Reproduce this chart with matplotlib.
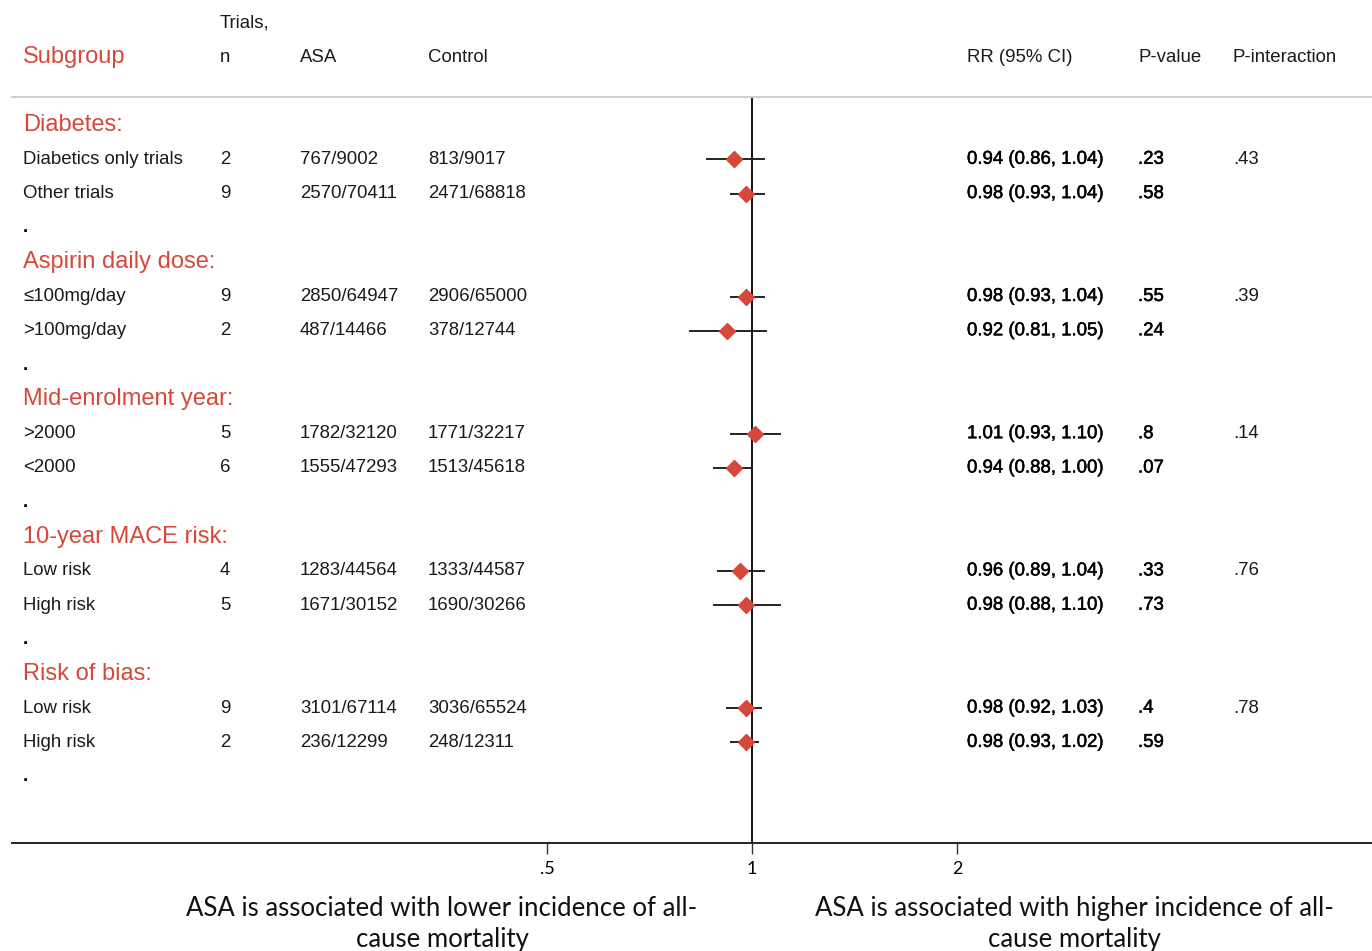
import matplotlib
matplotlib.use("Agg")
import matplotlib.pyplot as plt
import matplotlib.transforms as mtransforms
import matplotlib.patheffects as pe

plt.rcParams['font.family'] = ['Liberation Sans', 'DejaVu Sans']

# subgroup data
groups = ["Diabetes:", "Aspirin daily dose:", "Mid-enrolment year:",
          "10-year MACE risk:", "Risk of bias:"]
labels = ["Diabetics only trials", "Other trials",
          "\u2264100mg/day", ">100mg/day",
          ">2000", "<2000",
          "Low risk", "High risk",
          "Low risk", "High risk"]
trials = [2, 9, 9, 2, 5, 6, 4, 5, 9, 2]
asa = ["767/9002", "2570/70411", "2850/64947", "487/14466", "1782/32120",
       "1555/47293", "1283/44564", "1671/30152", "3101/67114", "236/12299"]
control = ["813/9017", "2471/68818", "2906/65000", "378/12744", "1771/32217",
           "1513/45618", "1333/44587", "1690/30266", "3036/65524", "248/12311"]
rr = [0.94, 0.98, 0.98, 0.92, 1.01, 0.94, 0.96, 0.98, 0.98, 0.98]
ci_lo = [0.86, 0.93, 0.93, 0.81, 0.93, 0.88, 0.89, 0.88, 0.92, 0.93]
ci_hi = [1.04, 1.04, 1.04, 1.05, 1.10, 1.00, 1.04, 1.10, 1.03, 1.02]
p_value = [".23", ".58", ".55", ".24", ".8", ".07", ".33", ".73", ".4", ".59"]
p_interaction = [".43", ".39", ".14", ".76", ".78"]

RED = "#d6483a"
INK = "#1a1a1a"
W, H = 1372, 951
fig = plt.figure(figsize=(W / 100, H / 100), dpi=100)

# axes spans the full table width; x is a log2 RR scale centred on 1
x0, x1 = 12, 1372
y_top, y_bot = 97, 843
ax = fig.add_axes([x0 / W, 1 - y_bot / H, (x1 - x0) / W, (y_bot - y_top) / H])
ax.set_xscale("log", base=2)
px_per_doubling = 205.0
ax.set_xlim(2 ** ((x0 - 752) / px_per_doubling), 2 ** ((x1 - 752) / px_per_doubling))

row_h = 34.3
first_row = 125
ax.set_ylim((y_bot - first_row) / row_h, -(first_row - y_top) / row_h)

for s in ["left", "right"]:
    ax.spines[s].set_visible(False)
ax.spines["top"].set_color("#cccccc")
ax.spines["top"].set_linewidth(1.3)
ax.spines["bottom"].set_color("#222222")
ax.spines["bottom"].set_linewidth(1.4)
ax.set_yticks([])
ax.set_xticks([0.5, 1, 2])
ax.set_xticklabels([".5", "1", "2"], family=["Lato", "DejaVu Sans"], fontsize=13)
ax.xaxis.set_minor_locator(matplotlib.ticker.NullLocator())
ax.tick_params(axis="x", length=8, width=1, color="#333333", pad=5)
ax.axvline(1, color="black", lw=1.3, zorder=1)

tr = mtransforms.blended_transform_factory(fig.transFigure, ax.transData)
col = lambda px: px / W

fs = 13.4
hfs = 17
semibold = [pe.withStroke(linewidth=0.35, foreground="black")]
row = 0
k = 0
for g, grp in enumerate(groups):
    ax.text(col(23), row, grp, transform=tr, color=RED, fontsize=hfs,
            va="center", ha="left")
    for j in range(2):
        r = row + 1 + j
        ax.text(col(23), r, labels[k], transform=tr, fontsize=fs, va="center", color=INK)
        ax.text(col(220), r, str(trials[k]), transform=tr, fontsize=fs, va="center", color=INK)
        ax.text(col(300), r, asa[k], transform=tr, fontsize=fs, va="center", color=INK)
        ax.text(col(428), r, control[k], transform=tr, fontsize=fs, va="center", color=INK)
        ax.text(col(967), r, f"{rr[k]:.2f} ({ci_lo[k]:.2f}, {ci_hi[k]:.2f})",
                transform=tr, fontsize=fs, va="center", color="black",
                path_effects=semibold)
        ax.text(col(1138), r, p_value[k], transform=tr, fontsize=fs, va="center",
                color="black", path_effects=semibold)
        if j == 0:
            ax.text(col(1233), r, p_interaction[g], transform=tr, fontsize=fs,
                    va="center", color=INK)
        ax.plot([ci_lo[k], ci_hi[k]], [r, r], color="#222222", lw=1.4, zorder=2)
        ax.plot(rr[k], r, marker="D", ms=8, color=RED, mec=RED, zorder=3)
        k += 1
    ax.text(col(23), row + 3, ".", transform=tr, fontsize=fs, va="center",
            fontweight="bold")
    row += 4

# column headers
hdr_y = 1 - 57 / H
for x, t in [(23, "Subgroup"), (220, "n"), (300, "ASA"), (428, "Control"),
             (967, "RR (95% CI)"), (1138, "P-value"), (1233, "P-interaction")]:
    fig.text(col(x), hdr_y, t, fontsize=hfs if t == "Subgroup" else fs,
             color=RED if t == "Subgroup" else INK, va="center", ha="left")
fig.text(col(220), 1 - 23 / H, "Trials,", fontsize=fs, color=INK, va="center")

# direction notes under the axis
note_kw = dict(fontsize=18.5, family=["Lato", "DejaVu Sans"], ha="center",
               va="center", multialignment="center", linespacing=1.3, color="#111111")
fig.text(442 / W, 1 - 924 / H,
         "ASA is associated with lower incidence of all-\ncause mortality", **note_kw)
fig.text(1074 / W, 1 - 924 / H,
         "ASA is associated with higher incidence of all-\ncause mortality", **note_kw)

fig.savefig("out.png", dpi=100)
